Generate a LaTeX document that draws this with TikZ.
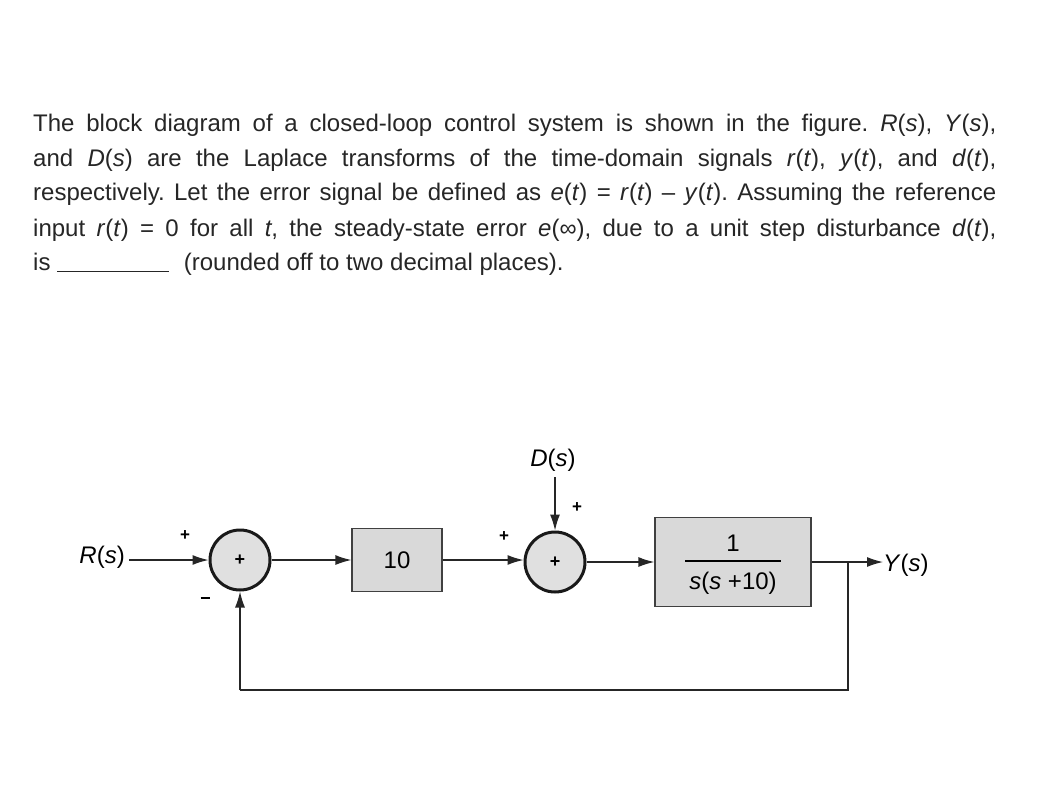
\documentclass[tikz,border=0pt]{standalone}
\usepackage{fontspec}
\setmainfont{Liberation Sans}
\usetikzlibrary{arrows.meta}
\begin{document}
\frenchspacing
\begin{tikzpicture}[x=1pt,y=-1pt,
  txt/.style={anchor=base west,inner sep=0,font=\fontsize{24}{28}\selectfont,text=black!85},
  blk/.style={draw=black!75,fill=black!15,line width=1.3pt,inner sep=0},
  sumc/.style={circle,draw=black!90,fill=black!12,line width=3pt,minimum size=60pt,inner sep=0,font=\bfseries\fontsize{18}{20}\selectfont},
  lab/.style={font=\fontsize{24}{26}\selectfont,inner sep=0},
  sg/.style={font=\bfseries\fontsize{17}{18}\selectfont,inner sep=0},
  sig/.style={line width=1.3pt,draw=black!85},
  arr/.style={sig,-{Latex[length=16pt,width=10pt]}}]
\useasboundingbox (0,0) rectangle (1048,784);
\fill[white] (0,0) rectangle (1048,784);
\node[txt] (l1) at (33,131) {\makebox[963pt][s]{The block diagram of a closed-loop control system is shown in the figure. \textit{R}(\textit{s}), \textit{Y}(\textit{s}),}};
\node[txt] (l2) at (33,166) {\makebox[963pt][s]{and \textit{D}(\textit{s}) are the Laplace transforms of the time-domain signals \textit{r}(\textit{t}), \textit{y}(\textit{t}), and \textit{d}(\textit{t}),}};
\node[txt] (l3) at (33,200) {\makebox[963pt][s]{respectively. Let the error signal be defined as \textit{e}(\textit{t}) = \textit{r}(\textit{t}) – \textit{y}(\textit{t}). Assuming the reference}};
\node[txt] (l4) at (33,236) {\makebox[963pt][s]{input \textit{r}(\textit{t}) = 0 for all \textit{t}, the steady-state error \textit{e}(∞), due to a unit step disturbance \textit{d}(\textit{t}),}};
\node[txt] (l5) at (33,270) {is \rule[-2pt]{112pt}{1pt}\hspace{8pt} (rounded off to two decimal places).};

\node[sumc] (s1) at (240,560) {+};
\node[sumc] (s2) at (555,562) {+};
\node[blk,minimum width=90pt,minimum height=63pt,font=\fontsize{24}{26}\selectfont] (g1) at (397,560) {10};
\node[blk,minimum width=156pt,minimum height=89pt] (g2) at (733,562) {};
\node[lab] (num) at (733,543) {1};
\node[lab] (den) at (733,583) {\textit{s}(\textit{s} +10)};
\draw[line width=1.3pt] (685,561) -- (781,561);
\node[lab,anchor=east] (R) at (125,557) {\textit{R}(\textit{s})};
\node[lab,anchor=west] (Y) at (883,565) {\textit{Y}(\textit{s})};
\node[lab] (D) at (553,460) {\textit{D}(\textit{s})};
\coordinate (br) at (848,562);
\coordinate (fb) at (848,690);
\coordinate (fb2) at (240,690);

\draw[arr] (R.east |- s1) ++(4,0) -- (s1.west);
\draw[arr] (s1.east) -- (g1.west);
\draw[arr] (g1.east) -- (g1.east -| s2.west);
\draw[arr] (s2.east) -- (s2.east -| g2.west);
\draw[arr] (s2.north |- D.south) ++(0,6) -- (s2.north);
\draw[arr] (g2.east) -- (g2.east -| Y.west);
\draw[sig] (br) -- (fb) -- (fb2);
\draw[arr] (fb2) -- (s1.south);

\node[sg] (p1) at (185,536) {+};
\node[sg] (m1) at (205,598) {\rule{9pt}{2.2pt}};
\node[sg] (p2) at (504,537) {+};
\node[sg] (p3) at (577,508) {+};
\end{tikzpicture}
\end{document}
